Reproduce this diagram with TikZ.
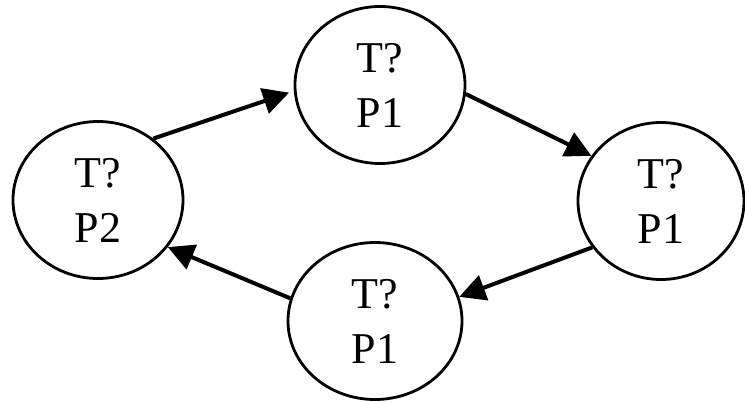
\documentclass[tikz,border=0pt]{standalone}
\usepackage{fontspec}
\setmainfont{Liberation Serif}
\usetikzlibrary{shapes.geometric,arrows.meta}
\begin{document}
\begin{tikzpicture}[x=1pt,y=-1pt,
  state/.style={draw=black, line width=2.8pt, ellipse, inner sep=0pt,
    minimum width=170pt, minimum height=157pt, align=center,
    font=\fontsize{44}{55}\selectfont},
  conn/.style={line width=4pt, -{Triangle[length=26pt,width=26pt]}}]
\useasboundingbox (0,0) rectangle (745,402);
\node[state] (T) at (380,85) {T?\\P1};
\node[state] (L) at (98,200) {T?\\P2};
\node[state, minimum width=166pt] (R) at (661,201) {T?\\P1};
\node[state, minimum width=174pt] (B) at (375,321) {T?\\P1};
\draw[conn, shorten >=5pt] (L.48) -- (T.184);
\draw[conn] (T.354) -- (R.147);
\draw[conn] (R.214) -- (B.16);
\draw[conn] (B.165) -- (L.326);
\end{tikzpicture}
\end{document}
